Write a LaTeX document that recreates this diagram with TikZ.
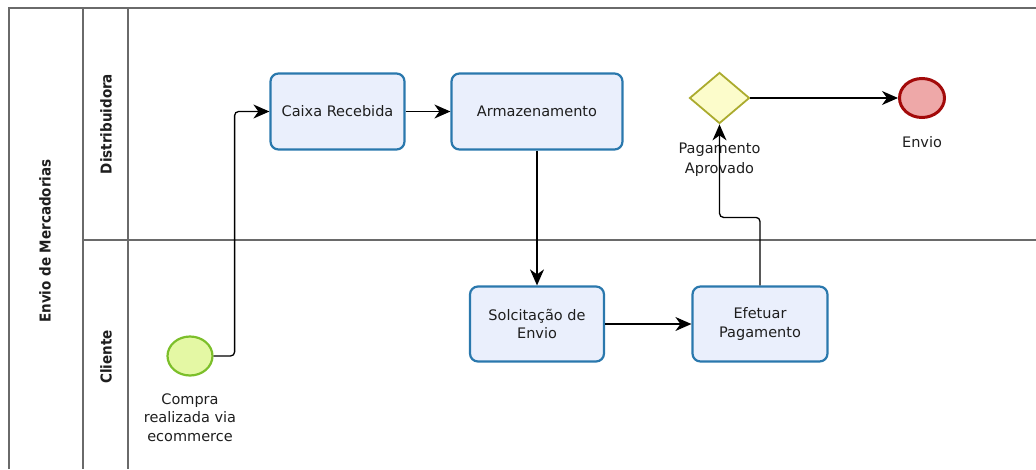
\documentclass[tikz,border=0pt]{standalone}
\usepackage{fontspec}
\setmainfont{DejaVu Sans}
\newfontfamily\lanefont{DejaVu Sans Condensed}
\usetikzlibrary{shapes.geometric,arrows.meta,calc}
\definecolor{taskborder}{HTML}{2A78AD}
\definecolor{taskfill}{HTML}{EAEFFC}
\definecolor{startborder}{HTML}{7CBF2A}
\definecolor{startfill}{HTML}{E4F8A4}
\definecolor{endborder}{HTML}{A30A0A}
\definecolor{endfill}{HTML}{EEA8A8}
\definecolor{gwborder}{HTML}{ABAB2E}
\definecolor{gwfill}{HTML}{FCFCCB}
\definecolor{poolline}{HTML}{6A6A6A}
\definecolor{txt}{HTML}{1E1E1E}
\begin{document}
\begin{tikzpicture}[x=1pt,y=-1pt,
  every node/.style={text=txt},
  bodytext/.style={font=\fontsize{14.5}{18.5}\selectfont, align=center},
  task/.style={draw=taskborder, fill=taskfill, line width=2.2pt, rounded corners=8pt,
    bodytext, inner sep=0pt},
  startev/.style={ellipse, draw=startborder, fill=startfill, line width=2.2pt,
    minimum width=45pt, minimum height=39pt, inner sep=0pt},
  endev/.style={ellipse, draw=endborder, fill=endfill, line width=3pt,
    minimum width=45pt, minimum height=39pt, inner sep=0pt},
  gateway/.style={diamond, draw=gwborder, fill=gwfill, line width=1.8pt,
    minimum width=60pt, minimum height=51pt, inner sep=0pt},
  lbl/.style={bodytext},
  lanelbl/.style={font=\lanefont\bfseries\fontsize{15}{16}\selectfont, rotate=90},
  poolln/.style={draw=poolline, line width=1.3pt},
  flow/.style={draw=black, line width=1.3pt, rounded corners=4pt,
    -{Stealth[length=16pt,width=14pt,inset=5pt]}}
]
\useasboundingbox (0,0) rectangle (1036,469);
% pool and lanes
\draw[poolln] (9,469) -- (9,8) -- (1040,8);
\draw[poolln] (83,8) -- (83,469);
\draw[poolln] (128,8) -- (128,469);
\draw[poolln] (83,240) -- (1040,240);
\node[lanelbl] (pool) at (45,241) {Envio de Mercadorias};
\node[lanelbl] (ldist) at (106,124) {Distribuidora};
\node[lanelbl] (lcli) at (106,357) {Cliente};
% nodes
\node[task, minimum width=134pt, minimum height=76pt] (caixa) at (337.5,111.5) {Caixa Recebida};
\node[task, minimum width=171pt, minimum height=76pt] (arm) at (537,111.5) {Armazenamento};
\node[task, minimum width=134pt, minimum height=75pt] (sol) at (537,324) {Solcitação de\\Envio};
\node[task, minimum width=135pt, minimum height=75pt] (efe) at (760,324) {Efetuar\\Pagamento};
\node[gateway] (gw) at (719.5,98) {};
\node[endev] (env) at (922,98) {};
\node[startev] (start) at (190,356) {};
% labels
\node[lbl, anchor=north, font=\fontsize{14.5}{20}\selectfont] (gwl) at (719.5,139) {Pagamento\\Aprovado};
\node[lbl, anchor=north] (envl) at (922,133) {Envio};
\node[lbl, anchor=north] (startl) at (190,390) {Compra\\realizada via\\ecommerce};
% flows
\draw[flow] (start.east) -- ++(21,0) |- (caixa.west);
\draw[flow] (caixa.east) -- (arm.west);
\draw[flow] (arm.south) -- (sol.north);
\draw[flow] (sol.east) -- (efe.west);
\draw[flow] (efe.north) -- ++(0,-68) -| (gw.south);
\draw[flow] (gw.east) -- (env.west);
\end{tikzpicture}
\end{document}
